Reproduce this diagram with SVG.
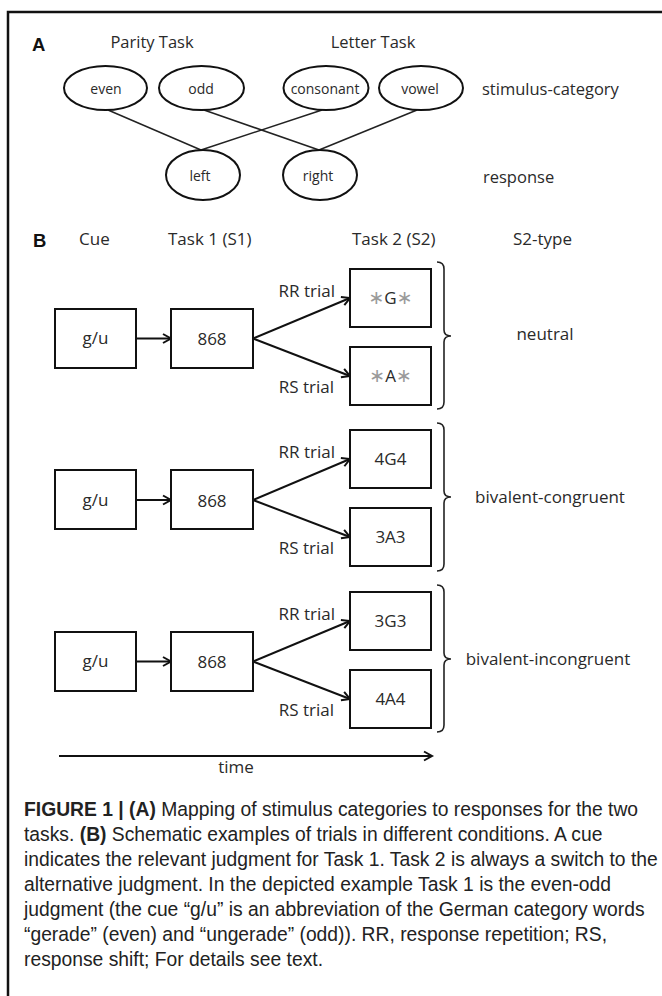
<svg xmlns="http://www.w3.org/2000/svg" width="662" height="996" viewBox="0 0 662 996">
<defs>
<style>
.t{font-family:"Open Sans","Liberation Sans",sans-serif;fill:#2a2a2a}
.h{font-size:16.5px}
.e{font-size:14px;text-anchor:middle}
.b{font-size:17px}
.m{text-anchor:middle}
.r{text-anchor:end}
.lbl{font-family:"Liberation Sans",Arial,sans-serif;font-weight:bold;font-size:18.5px;fill:#111}
.node{fill:#fff;stroke:#111;stroke-width:2}
.ln{stroke:#222;stroke-width:1.5;fill:none}
.arr{stroke:#111;stroke-width:2;fill:none;marker-end:url(#ah)}
.br{stroke:#222;stroke-width:1.6;fill:none}
.ast{fill:#9a9a9a;font-family:"DejaVu Sans",sans-serif;font-size:19px}
.cap{font-family:"Liberation Sans",Arial,sans-serif;font-size:19.3px;fill:#222}
.cb{font-weight:bold}
</style>
<marker id="ah" markerUnits="userSpaceOnUse" markerWidth="14" markerHeight="14" refX="10" refY="6" orient="auto">
<path d="M2,1.5 L10,6 L2,10.5" fill="none" stroke="#111" stroke-width="2"/>
</marker>
</defs>
<rect width="662" height="996" fill="#fff"/>
<path d="M8,996 L8,12 L662,12" fill="none" stroke="#111" stroke-width="2.5"/>

<!-- Panel A -->
<text class="lbl" x="32" y="51">A</text>
<text class="t h m" x="152" y="48">Parity Task</text>
<text class="t h m" x="373" y="48">Letter Task</text>
<text class="t h" x="482" y="95">stimulus-category</text>
<text class="t h" x="483" y="183">response</text>

<g id="connectors-A">
<line class="ln" x1="108" y1="110" x2="201" y2="150"/>
<line class="ln" x1="204" y1="110" x2="319" y2="150"/>
<line class="ln" x1="322" y1="110" x2="201" y2="150"/>
<line class="ln" x1="417" y1="110" x2="319" y2="150"/>
</g>

<g id="even"><ellipse class="node" cx="105.5" cy="88" rx="41.5" ry="22"/><text class="t e" x="106" y="94">even</text></g>
<g id="odd"><ellipse class="node" cx="201.5" cy="88" rx="42.5" ry="22"/><text class="t e" x="201" y="94">odd</text></g>
<g id="consonant"><ellipse class="node" cx="326" cy="88" rx="42.5" ry="22"/><text class="t e" x="325" y="94">consonant</text></g>
<g id="vowel"><ellipse class="node" cx="421" cy="88" rx="42" ry="22"/><text class="t e" x="420" y="94">vowel</text></g>
<g id="left"><ellipse class="node" cx="203" cy="175" rx="37" ry="25"/><text class="t e" x="200" y="181">left</text></g>
<g id="right"><ellipse class="node" cx="320" cy="175" rx="37" ry="25"/><text class="t e" x="318" y="181">right</text></g>

<!-- Panel B -->
<text class="lbl" x="33" y="247">B</text>
<text class="t b" x="79" y="245">Cue</text>
<text class="t b" x="168" y="245">Task 1 (S1)</text>
<text class="t b" x="352" y="245">Task 2 (S2)</text>
<text class="t b" x="513" y="245">S2-type</text>

<g id="connectors-B">
<!-- row 1 -->
<line class="arr" x1="136" y1="338.5" x2="171" y2="338.5"/>
<line class="arr" x1="253" y1="338.5" x2="350" y2="298"/>
<line class="arr" x1="253" y1="338.5" x2="350" y2="376"/>
<path class="br" d="M437,262 Q444,262 444,269 L444,330 Q444,336 451,336 Q444,336 444,342 L444,402 Q444,409 437,409"/>
<!-- row 2 -->
<line class="arr" x1="136" y1="500" x2="171" y2="500"/>
<line class="arr" x1="253" y1="500" x2="350" y2="459"/>
<line class="arr" x1="253" y1="500" x2="350" y2="537"/>
<path class="br" d="M437,423 Q444,423 444,430 L444,491 Q444,497 451,497 Q444,497 444,503 L444,564 Q444,571 437,571"/>
<!-- row 3 -->
<line class="arr" x1="136" y1="661.5" x2="171" y2="661.5"/>
<line class="arr" x1="253" y1="661.5" x2="350" y2="621"/>
<line class="arr" x1="253" y1="661.5" x2="350" y2="699"/>
<path class="br" d="M437,585 Q444,585 444,592 L444,653 Q444,659 451,659 Q444,659 444,665 L444,725 Q444,732 437,732"/>
<!-- time -->
<line class="arr" x1="59" y1="756" x2="432" y2="756"/>
</g>

<!-- row 1 nodes -->
<g id="cue1"><rect class="node" x="55" y="309" width="81" height="59"/><text class="t b m" x="95.5" y="344">g/u</text></g>
<g id="s1a"><rect class="node" x="171" y="309" width="82" height="59"/><text class="t b m" x="212" y="345">868</text></g>
<g id="s2-G"><rect class="node" x="350" y="269" width="81" height="58"/><text class="t b m" x="390.5" y="304"><tspan class="ast">∗</tspan>G<tspan class="ast">∗</tspan></text></g>
<g id="s2-A"><rect class="node" x="350" y="347" width="81" height="58"/><text class="t b m" x="390.5" y="382"><tspan class="ast">∗</tspan>A<tspan class="ast">∗</tspan></text></g>
<text class="t b r" x="335" y="297">RR trial</text>
<text class="t b r" x="334" y="393">RS trial</text>
<text class="t b m" x="545" y="340">neutral</text>

<!-- row 2 nodes -->
<g id="cue2"><rect class="node" x="55" y="470" width="81" height="59"/><text class="t b m" x="95.5" y="505.5">g/u</text></g>
<g id="s1b"><rect class="node" x="171" y="470" width="82" height="59"/><text class="t b m" x="212" y="506.5">868</text></g>
<g id="s2-4G4"><rect class="node" x="350" y="430" width="81" height="58"/><text class="t b m" x="390.5" y="465">4G4</text></g>
<g id="s2-3A3"><rect class="node" x="350" y="508" width="81" height="58"/><text class="t b m" x="390.5" y="543">3A3</text></g>
<text class="t b r" x="335" y="458">RR trial</text>
<text class="t b r" x="334" y="554">RS trial</text>
<text class="t b m" x="550" y="503">bivalent-congruent</text>

<!-- row 3 nodes -->
<g id="cue3"><rect class="node" x="55" y="632" width="81" height="59"/><text class="t b m" x="95.5" y="667">g/u</text></g>
<g id="s1c"><rect class="node" x="171" y="632" width="82" height="59"/><text class="t b m" x="212" y="668">868</text></g>
<g id="s2-3G3"><rect class="node" x="350" y="592" width="81" height="58"/><text class="t b m" x="390.5" y="627">3G3</text></g>
<g id="s2-4A4"><rect class="node" x="350" y="670" width="81" height="58"/><text class="t b m" x="390.5" y="705">4A4</text></g>
<text class="t b r" x="335" y="620">RR trial</text>
<text class="t b r" x="334" y="716">RS trial</text>
<text class="t b m" x="548" y="665">bivalent-incongruent</text>

<text class="t b m" x="236" y="773">time</text>

<!-- Caption -->
<g id="caption">
<text class="cap" x="24" y="816"><tspan class="cb">FIGURE 1 | (A)</tspan> Mapping of stimulus categories to responses for the two</text>
<text class="cap" x="24" y="841">tasks. <tspan class="cb">(B)</tspan> Schematic examples of trials in different conditions. A cue</text>
<text class="cap" x="24" y="866">indicates the relevant judgment for Task 1. Task 2 is always a switch to the</text>
<text class="cap" x="24" y="891">alternative judgment. In the depicted example Task 1 is the even-odd</text>
<text class="cap" x="24" y="916">judgment (the cue “g/u” is an abbreviation of the German category words</text>
<text class="cap" x="24" y="941">“gerade” (even) and “ungerade” (odd)). RR, response repetition; RS,</text>
<text class="cap" x="24" y="966">response shift; For details see text.</text>
</g>
</svg>
